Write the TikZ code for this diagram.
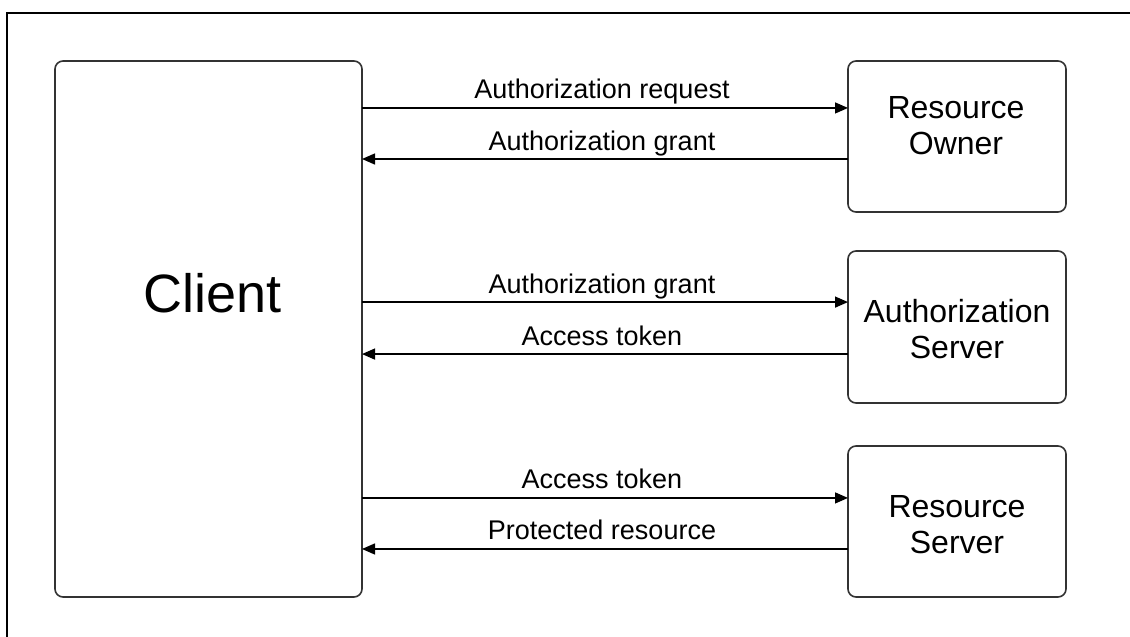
\documentclass[tikz,border=0pt]{standalone}
\usepackage{fontspec}
\setmainfont{Liberation Sans}
\usetikzlibrary{arrows.meta,calc}
\begin{document}
\begin{tikzpicture}[x=1pt,y=-1pt,
  box/.style={draw=black!80, line width=1.6pt, rounded corners=8pt, inner sep=0pt, outer sep=0pt},
  arr/.style={line width=1.4pt, -{Triangle[length=13pt,width=11pt]}},
  lbl/.style={font=\fontsize{27}{32}\selectfont, inner sep=0pt, anchor=base, yshift=9pt},
  boxtxt/.style={font=\fontsize{32}{36}\selectfont, align=center, inner sep=0pt, anchor=base},
  frame/.style={line width=2pt}
]
\useasboundingbox (0,0) rectangle (1130,637);
\fill[white] (0,0) rectangle (1130,637);
\draw[frame] (1130,12.5) -- (6.5,12.5) -- (6.5,637);

\node[box, minimum width=307pt, minimum height=536pt] (client) at (208.5,329) {};
\node[box, minimum width=218pt, minimum height=151pt] (ro) at (957,136.5) {};
\node[box, minimum width=218pt, minimum height=152pt] (as) at (957,327) {};
\node[box, minimum width=218pt, minimum height=151pt] (rs) at (957,521.5) {};

\node[font=\fontsize{54}{60}\selectfont, inner sep=0pt, anchor=base] (clienttxt) at (212.5,312.5) {Client};
\node[boxtxt] (rotxt) at (956,154) {Resource\\Owner};
\node[boxtxt] (astxt) at (957,358) {Authorization\\Server};
\node[boxtxt] (rstxt) at (957,553) {Resource\\Server};

\coordinate (a1) at ($(ro.north west)!0.311!(ro.south west)$);
\coordinate (a2) at ($(ro.north west)!0.649!(ro.south west)$);
\coordinate (b1) at ($(as.north west)!0.336!(as.south west)$);
\coordinate (b2) at ($(as.north west)!0.678!(as.south west)$);
\coordinate (c1) at ($(rs.north west)!0.344!(rs.south west)$);
\coordinate (c2) at ($(rs.north west)!0.682!(rs.south west)$);

\draw[arr] (client.east |- a1) -- (a1) node[lbl, pos=0.5, xshift=-3pt] {Authorization request};
\draw[arr] (a2) -- (client.east |- a2) node[lbl, pos=0.5, xshift=-3pt] {Authorization grant};
\draw[arr] (client.east |- b1) -- (b1) node[lbl, pos=0.5, xshift=-3pt] {Authorization grant};
\draw[arr] (b2) -- (client.east |- b2) node[lbl, pos=0.5, xshift=-3pt] {Access token};
\draw[arr] (client.east |- c1) -- (c1) node[lbl, pos=0.5, xshift=-3pt] {Access token};
\draw[arr] (c2) -- (client.east |- c2) node[lbl, pos=0.5, xshift=-3pt] {Protected resource};
\end{tikzpicture}
\end{document}
